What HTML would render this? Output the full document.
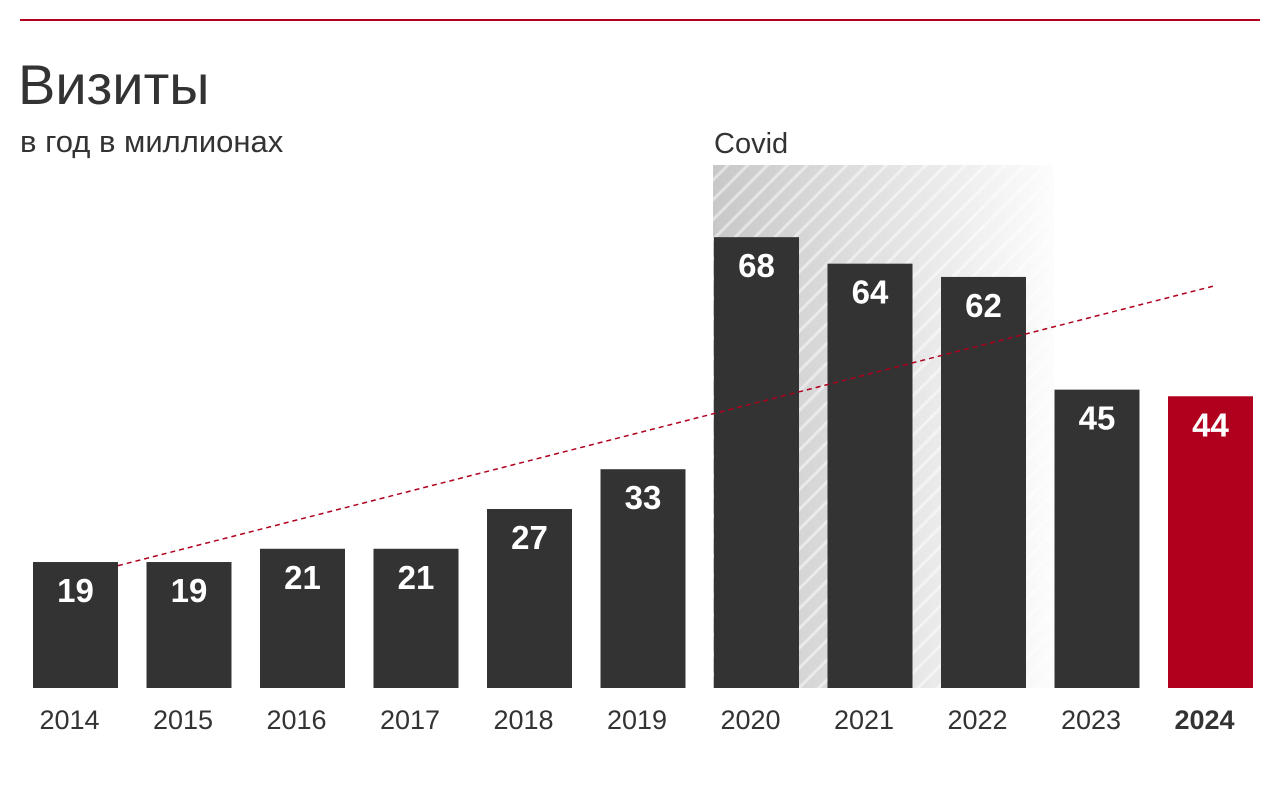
<!DOCTYPE html>
<html><head><meta charset="utf-8"><style>
body{margin:0;background:#fff;width:1280px;height:805px;overflow:hidden;font-family:"Liberation Sans",sans-serif}
</style></head><body>
<svg width="1280" height="805" xmlns="http://www.w3.org/2000/svg">
<defs>
<pattern id="hatch" width="14" height="14" patternUnits="userSpaceOnUse" patternTransform="rotate(45)">
<rect width="14" height="14" fill="#c8c8c8"/><rect width="3" height="14" fill="#e2e2e2"/></pattern>
<linearGradient id="fade" x1="0" x2="1" y1="0" y2="0"><stop offset="0" stop-color="#fff" stop-opacity="0"/><stop offset="1" stop-color="#fff" stop-opacity="0.95"/></linearGradient>
</defs>
<line x1="20" y1="20" x2="1260" y2="20" stroke="#b0001e" stroke-width="2"/>
<text x="18" y="104" font-size="56" fill="#333">Визиты</text>
<text x="20" y="152" font-size="31" fill="#333">в год в миллионах</text>
<g id="covid"></g>
<g id="bars"></g>
<g id="trend"></g>
</svg>
<script>
const years=["2014","2015","2016","2017","2018","2019","2020","2021","2022","2023","2024"];
const visits=[19,19,21,21,27,33,68,64,62,45,44];
const trendStart=18, trendEnd=60;
const NS="http://www.w3.org/2000/svg";
const base=688, scale=6.63, x0=33, step=113.5, bw=85;
const X=i=>x0+i*step, Y=v=>base-v*scale;
function mk(t,a,p){const e=document.createElementNS(NS,t);for(const k in a)e.setAttribute(k,a[k]);p.appendChild(e);return e;}
const cv=document.getElementById('covid');
const c1=X(6)-1,c2=X(8)+bw+28;
let r=mk('rect',{x:c1,y:165,width:c2-c1,height:base-165,fill:'url(#hatch)'},cv);


mk('rect',{x:c1,y:165,width:c2-c1,height:base-165,fill:'url(#fade)'},cv);
let ct=mk('text',{x:c1+1,y:153,'font-size':29,fill:'#333'},cv);ct.textContent='Covid';


const g=document.getElementById('bars');
visits.forEach((v,i)=>{
 const last=i===visits.length-1;
 const b=mk('rect',{x:X(i),y:Y(v),width:bw,height:v*scale,fill:last?'#b0001e':'#333'},g);
 
 
 const t=mk('text',{x:X(i)+bw/2,y:Y(v)+40,'font-size':33,'font-weight':'bold',fill:'#fff','text-anchor':'middle'},g);
 t.textContent=v;
 
 
 const l=mk('text',{x:X(i)+bw/2-6,y:729,'font-size':27,fill:'#333','text-anchor':'middle','font-weight':last?'bold':'normal'},g);
 l.textContent=years[i];
 
 
});
const tl=mk('line',{x1:X(0)+bw,y1:Y(trendStart)-3,x2:X(10)+45,y2:Y(trendEnd)-4,stroke:'#b0001e','stroke-width':1.5,'stroke-dasharray':'5,4'},document.getElementById('trend'));


</script>
</body></html>
